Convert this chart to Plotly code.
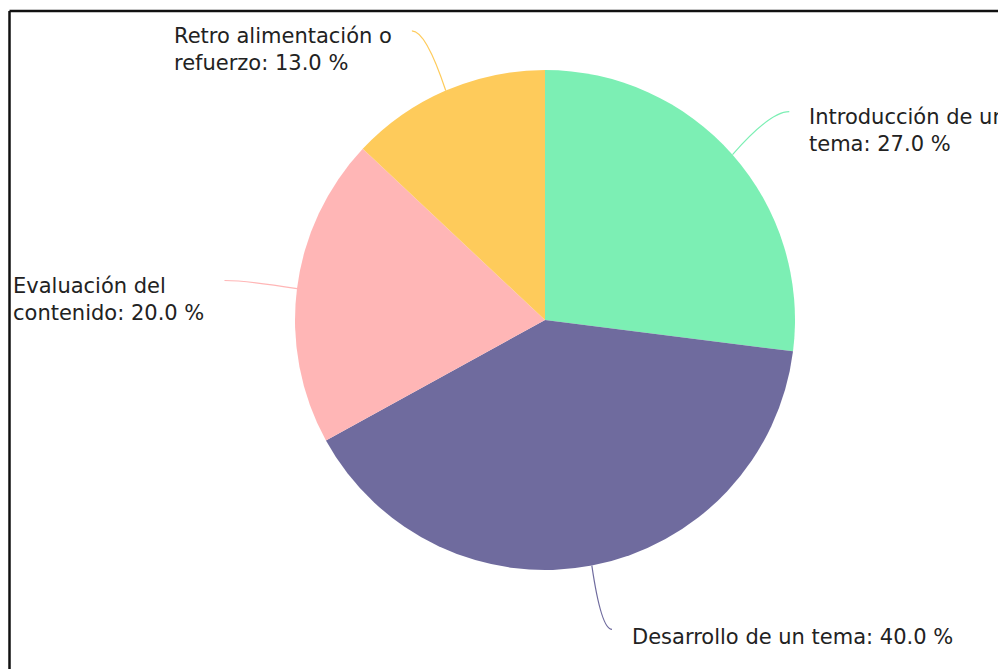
import math
import plotly.graph_objects as go

labels = ["Introducción de un tema", "Desarrollo de un tema", "Evaluación del contenido", "Retro alimentación o refuerzo"]
label_lines = [["Introducción de un", "tema: 27.0 %"],
               ["Desarrollo de un tema: 40.0 %"],
               ["Evaluación del", "contenido: 20.0 %"],
               ["Retro alimentación o", "refuerzo: 13.0 %"]]
values = [27.0, 40.0, 20.0, 13.0]
colors = ["#7CEFB4", "#6F6B9E", "#FFB6B6", "#FECB5B"]

W, H = 998, 661
cx, cy, R = 537, 312, 250

fig = go.Figure(go.Pie(
    labels=labels, values=values, sort=False, direction="clockwise", rotation=0,
    marker=dict(colors=colors, line=dict(width=0)),
    textinfo="none", hoverinfo="label+percent", showlegend=False,
    domain=dict(x=[(cx - R) / W, (cx + R) / W], y=[1 - (cy + R) / H, 1 - (cy - R) / H]),
))

def px(x, y):
    return x / W, 1 - y / H

def polar(r, a):
    return cx + r * math.sin(a), cy - r * math.cos(a)

shapes = []
annotations = []
total = sum(values)
cum = 0.0
for lines, v, col in zip(label_lines, values, colors):
    mid = (cum + v / 2) / total * 2 * math.pi
    cum += v
    right = math.sin(mid) >= 0
    sgn = 1 if right else -1
    x0, y0 = polar(R, mid)
    xr, yr = polar(R + 65, mid)
    xm, _ = polar(R + 50, mid)
    xe, ye = xr + 8 * sgn, yr
    xc, yc = xm, ye
    X0, Y0 = px(x0, y0)
    XC, YC = px(xc, yc)
    XE, YE = px(xe, ye)
    shapes.append(dict(type="path", xref="paper", yref="paper",
                       path=f"M {X0} {Y0} Q {XC} {YC} {XE} {YE}",
                       line=dict(color=col, width=1.2)))
    tx = xr + 26 * sgn
    AX, AY = px(tx, yr + 8 + 11 * (len(lines) - 1))
    annotations.append(dict(xref="paper", yref="paper", x=AX, y=AY, text="<br>".join(lines),
                            showarrow=False, xanchor="left" if right else "right",
                            yanchor="middle", align="left",
                            font=dict(family="DejaVu Sans", size=21, color="#222222")))

# frame (left and top edges)
shapes.append(dict(type="line", xref="paper", yref="paper", x0=1.5 / W, x1=1.5 / W, y0=0, y1=1 - 3 / H,
                   line=dict(color="#111111", width=2.5)))
shapes.append(dict(type="line", xref="paper", yref="paper", x0=1.5 / W, x1=1, y0=1 - 3 / H, y1=1 - 3 / H,
                   line=dict(color="#111111", width=2.5)))

fig.update_layout(width=W, height=H, margin=dict(l=0, r=0, t=0, b=0),
                  paper_bgcolor="white", plot_bgcolor="white",
                  shapes=shapes, annotations=annotations)
fig.write_html("out.html")
